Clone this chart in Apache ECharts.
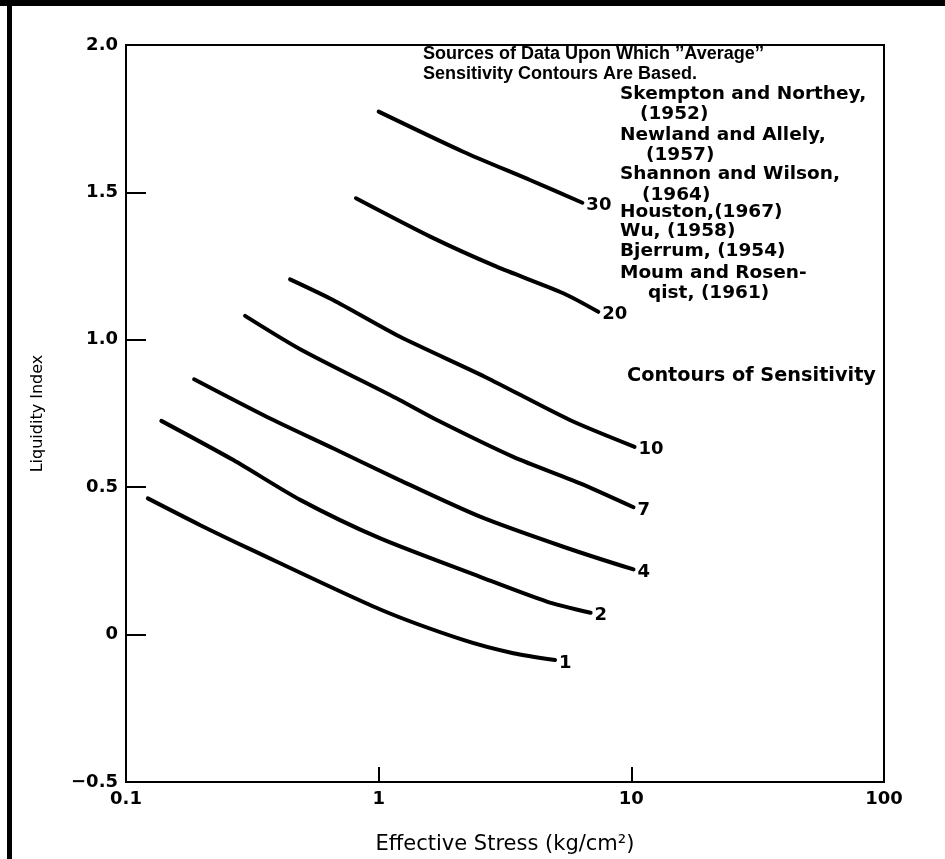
<!DOCTYPE html>
<html style="height: 100%">

<head>
  <meta charset="utf-8">
</head>

<body style="height: 100%; margin: 0; background: #fff">
  <div id="container" style="height: 100%"></div>
  <script type="text/javascript" src="https://cdn.jsdelivr.net/npm/echarts@6/dist/echarts.min.js"></script>
  <script type="text/javascript">
  // sensitivity contours (stress in kg/cm2, liquidity index)
  var sensitivities = ['30', '20', '10', '7', '4', '2', '1'];

  var stress30 = [1.0, 2.16, 3.97, 6.4];
  var li30 = [1.774, 1.638, 1.542, 1.465];

  var stress20 = [0.813, 1.60, 2.93, 5.38, 7.4];
  var li20 = [1.480, 1.350, 1.248, 1.158, 1.095];

  var stress10 = [0.446, 0.66, 1.21, 2.64, 5.71, 10.3];
  var li10 = [1.205, 1.135, 1.011, 0.874, 0.728, 0.637];

  var stress7 = [0.296, 0.489, 1.21, 1.70, 3.41, 6.27, 10.2];
  var li7 = [1.081, 0.968, 0.796, 0.728, 0.603, 0.513, 0.432];

  var stress4 = [0.186, 0.36, 0.66, 1.21, 2.52, 5.38, 10.2];
  var li4 = [0.866, 0.739, 0.632, 0.524, 0.400, 0.298, 0.221];

  var stress2 = [0.138, 0.266, 0.489, 1.01, 2.52, 4.63, 6.9];
  var li2 = [0.725, 0.592, 0.457, 0.327, 0.196, 0.112, 0.074];

  var stress1 = [0.122, 0.196, 0.31, 1.01, 2.16, 3.41, 4.99];
  var li1 = [0.462, 0.372, 0.290, 0.086, -0.018, -0.063, -0.086];

  var stressList = [stress30, stress20, stress10, stress7, stress4, stress2, stress1];
  var liList = [li30, li20, li10, li7, li4, li2, li1];

  var headerLines = [
    ['Sources of Data Upon Which \u2019\u2019Average\u2019\u2019', 423, 56],
    ['Sensitivity Contours Are Based.', 423, 76]
  ];
  var sourceLines = [
    ['Skempton and Northey,', 620, 96],
    ['(1952)', 640, 116],
    ['Newland and Allely,', 620, 137],
    ['(1957)', 646, 157],
    ['Shannon and Wilson,', 620, 176],
    ['(1964)', 642, 197],
    ['Houston,(1967)', 620, 214],
    ['Wu, (1958)', 620, 233],
    ['Bjerrum, (1954)', 620, 253],
    ['Moum and Rosen-', 620, 275],
    ['qist, (1961)', 648, 295]
  ];
  var noteLine = ['Contours of Sensitivity', 627, 377];

  var font = 'DejaVu Sans';

  var dom = document.getElementById("container");
  var myChart = echarts.init(dom);

  var series = sensitivities.map(function(s, i) {
    return {
      name: s,
      type: 'line',
      smooth: 0.25,
      symbol: 'none',
      silent: true,
      lineStyle: { color: '#000', width: 4, cap: 'round' },
      endLabel: {
        show: true,
        formatter: '{a}',
        color: '#000',
        fontFamily: font,
        fontWeight: 'bold',
        fontSize: 18,
        distance: 4,
        offset: [0, 3]
      },
      data: stressList[i].map(function(x, j) { return [x, liList[i][j]]; })
    };
  });

  function textEl(t, css) {
    return {
      type: 'text',
      left: t[1],
      top: t[2] - 11,
      style: { text: t[0], fill: '#000', font: css }
    };
  }
  var graphics = [];
  headerLines.forEach(function(t) { graphics.push(textEl(t, 'bold 18px "Liberation Sans"')); });
  sourceLines.forEach(function(t) { graphics.push(textEl(t, 'bold 18.5px "DejaVu Sans"')); });
  graphics.push(textEl(noteLine, 'bold 19.3px "DejaVu Sans"'));
  // scanned page frame
  graphics.push({ type: 'rect', shape: { x: 0, y: 0, width: 945, height: 6 }, style: { fill: '#000' } });
  graphics.push({ type: 'rect', shape: { x: 7, y: 0, width: 5, height: 859 }, style: { fill: '#000' } });

  var option = {
    animation: false,
    backgroundColor: '#fff',
    grid: {
      left: 126, right: 61, top: 45, bottom: 77,
      outerBoundsMode: 'none',
      show: true, borderColor: '#000', borderWidth: 2
    },
    xAxis: {
      type: 'log',
      logBase: 10,
      min: 0.1,
      max: 100,
      name: 'Effective Stress (kg/cm\u00b2)',
      nameLocation: 'middle',
      nameGap: 52,
      nameTextStyle: { color: '#000', fontFamily: font, fontSize: 21 },
      axisLine: { onZero: false, lineStyle: { color: '#000', width: 2 } },
      axisTick: { inside: true, length: 15, lineStyle: { color: '#000', width: 2 } },
      axisLabel: {
        color: '#000', fontFamily: font, fontWeight: 'bold', fontSize: 18, margin: 8,
        formatter: function(v) { return String(v); }
      },
      splitLine: { show: false },
      minorTick: { show: false }
    },
    yAxis: {
      type: 'value',
      min: -0.5,
      max: 2,
      interval: 0.5,
      name: 'Liquidity Index',
      nameLocation: 'middle',
      nameGap: 80,
      nameTextStyle: { color: '#000', fontFamily: font, fontSize: 16 },
      axisLine: { lineStyle: { color: '#000', width: 2 } },
      axisTick: { inside: true, length: 20, lineStyle: { color: '#000', width: 2 } },
      axisLabel: {
        color: '#000', fontFamily: font, fontWeight: 'bold', fontSize: 18, margin: 8,
        formatter: function(v) {
          if (v === 0) return '0';
          return v.toFixed(1).replace('-', '\u2212');
        }
      },
      splitLine: { show: false }
    },
    graphic: graphics,
    series: series
  };

  myChart.setOption(option);
  </script>
</body>

</html>
